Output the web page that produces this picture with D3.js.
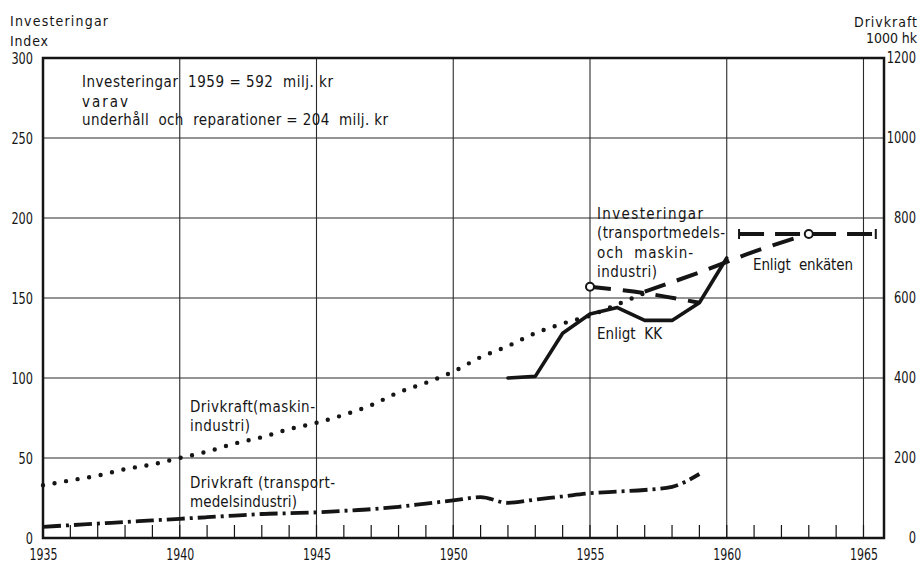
<!DOCTYPE html>
<html><head><meta charset="utf-8">
<script src="https://cdn.jsdelivr.net/npm/d3@7"></script>
<style>
html,body{margin:0;padding:0;background:#fff;}
svg{display:block;}
text{font-family:"DejaVu Sans Condensed","DejaVu Sans",sans-serif;fill:#151515;}
.num text{font-family:"DejaVu Sans Condensed","DejaVu Sans",sans-serif;font-size:16px;fill:#151515;}
</style></head><body>
<svg id="chart" width="922" height="564"></svg>
<script>
// ---------- data ----------
const xTickYears = [1935, 1940, 1945, 1950, 1955, 1960, 1965];
const minorYears = d3.range(1935, 1966);
const leftTicks = [0, 50, 100, 150, 200, 250, 300];          // Investeringar, index
const rightTicks = [0, 200, 400, 600, 800, 1000, 1200];       // Drivkraft, 1000 hk

// Drivkraft (maskinindustri), 1000 hk  (dotted)
const maskinYears  = [1935,1936,1937,1938,1939,1940,1941,1942,1943,1944,1945,1946,1947,1948,1949,1950,1951,1952,1953,1954,1955,1956,1957];
const maskinValues = [132, 144, 156, 172, 184, 200, 216, 236, 252, 272, 288, 308, 332, 364, 388, 416, 452, 480, 512, 536, 556, 584, 612];

// Drivkraft (transportmedelsindustri), 1000 hk  (dash-dot)
const transportYears  = [1935,1936,1937,1938,1939,1940,1941,1942,1943,1944,1945,1946,1947,1948,1949,1950,1951,1952,1953,1954,1955,1956,1957,1958,1959];
const transportValues = [28, 32, 36, 40, 44, 48, 52, 56, 60, 62, 64, 68, 72, 78, 86, 94, 102, 88, 96, 104, 112, 116, 120, 128, 160];

// Investeringar enligt KK, index (solid)
const kkYears  = [1952, 1953, 1954, 1955, 1956, 1957, 1958, 1959, 1960];
const kkValues = [100, 101, 128, 140, 144, 136, 136, 147, 175];

// Investeringar enligt enkäten, index (dashed)
const enkatYearsA  = [1955, 1957, 1959];
const enkatValuesA = [157, 153, 147];
const enkatYearsB  = [1957, 1959, 1961, 1963];
const enkatValuesB = [154, 166, 179, 190];
const enkatLevelYears = [1960.45, 1965.45];
const enkatLevel = 190;
const enkatMarkYears  = [1955, 1963];
const enkatMarkValues = [157, 190];

// ---------- chart ----------
const svg = d3.select("#chart");
const L = 43, R = 884, T = 58, B = 538;
const x  = d3.scaleLinear().domain([1935, 1965.75]).range([L, R]);
const yL = d3.scaleLinear().domain([0, 300]).range([B, T]);
const yR = d3.scaleLinear().domain([0, 1200]).range([B, T]);
const ink = "#151515";

// gridlines
svg.append("g").selectAll("line").data(leftTicks.filter(v => v > 0 && v < 300)).join("line")
  .attr("x1", L).attr("x2", R).attr("y1", d => yL(d)).attr("y2", d => yL(d))
  .attr("stroke", "#2a2a2a").attr("stroke-width", 1.1);
svg.append("g").selectAll("line").data(xTickYears.filter(v => v > 1935)).join("line")
  .attr("x1", d => x(d)).attr("x2", d => x(d)).attr("y1", T).attr("y2", B)
  .attr("stroke", "#2a2a2a").attr("stroke-width", 1.1);
// minor year ticks
svg.append("g").selectAll("line").data(minorYears).join("line")
  .attr("x1", d => x(d)).attr("x2", d => x(d)).attr("y1", B).attr("y2", B - 13)
  .attr("stroke", ink).attr("stroke-width", 1.2);

// axes (labels)
const fmt = d3.format("d");
const axL = svg.append("g").attr("class", "num").attr("transform", `translate(${L},0)`)
  .call(d3.axisLeft(yL).tickValues(leftTicks).tickFormat(fmt).tickSize(0).tickPadding(10));
const axB = svg.append("g").attr("class", "num").attr("transform", `translate(0,${B})`)
  .call(d3.axisBottom(x).tickValues(xTickYears).tickFormat(fmt).tickSize(0).tickPadding(11));
[axL, axB].forEach(a => {
  a.select(".domain").remove();
  a.selectAll("text").attr("font-size", 16).attr("fill", ink);
});
const digitW = 7.2;
axL.selectAll("text").attr("textLength", d => String(d).length * digitW).attr("lengthAdjust", "spacingAndGlyphs");
axB.selectAll("text").attr("font-size", 17).attr("textLength", 28).attr("lengthAdjust", "spacingAndGlyphs");

// right axis labels (condensed horizontally, right-aligned at 916)
svg.append("g").selectAll("text").data(rightTicks).join("text")
  .attr("transform", d => `translate(916,${yR(d)}) scale(0.8,1)`)
  .attr("x", 0).attr("dy", "0.32em").attr("text-anchor", "end")
  .attr("font-size", 16).attr("fill", ink)
  .text(fmt);

// frame
svg.append("rect").attr("x", L).attr("y", T).attr("width", R - L).attr("height", B - T)
  .attr("fill", "none").attr("stroke", ink).attr("stroke-width", 2.5);

// series
const zip = (xs, ys) => xs.map((v, i) => [v, ys[i]]);
const lineR = d3.line().x(d => x(d[0])).y(d => yR(d[1])).curve(d3.curveMonotoneX);
const lineL = d3.line().x(d => x(d[0])).y(d => yL(d[1])).curve(d3.curveMonotoneX);
const lineLin = d3.line().x(d => x(d[0])).y(d => yL(d[1]));

svg.append("path").datum(zip(maskinYears, maskinValues)).attr("d", lineR)
  .attr("fill", "none").attr("stroke", ink).attr("stroke-width", 4.4)
  .attr("stroke-linecap", "round").attr("stroke-dasharray", "0,11.7");

svg.append("path").datum(zip(transportYears, transportValues)).attr("d", lineR)
  .attr("fill", "none").attr("stroke", ink).attr("stroke-width", 3.8)
  .attr("stroke-dasharray", "18,5,3,5");

svg.append("path").datum(zip(kkYears, kkValues)).attr("d", lineLin)
  .attr("fill", "none").attr("stroke", ink).attr("stroke-width", 3.6)
  .attr("stroke-linejoin", "round").attr("stroke-linecap", "round");

svg.append("path").datum(zip(enkatYearsA, enkatValuesA)).attr("d", lineL)
  .attr("fill", "none").attr("stroke", ink).attr("stroke-width", 4)
  .attr("stroke-dasharray", "21,12");
svg.append("path").datum(zip(enkatYearsB, enkatValuesB)).attr("d", lineL)
  .attr("fill", "none").attr("stroke", ink).attr("stroke-width", 4)
  .attr("stroke-dasharray", "22,12");

// level line with end bars
svg.append("line").attr("x1", x(enkatLevelYears[0])).attr("x2", x(enkatLevelYears[1]))
  .attr("y1", yL(enkatLevel)).attr("y2", yL(enkatLevel))
  .attr("stroke", ink).attr("stroke-width", 4).attr("stroke-dasharray", "25,11");
svg.append("g").selectAll("line").data(enkatLevelYears).join("line")
  .attr("x1", d => x(d)).attr("x2", d => x(d))
  .attr("y1", yL(enkatLevel) - 5).attr("y2", yL(enkatLevel) + 5)
  .attr("stroke", ink).attr("stroke-width", 2);

svg.append("g").selectAll("circle").data(zip(enkatMarkYears, enkatMarkValues)).join("circle")
  .attr("cx", d => x(d[0])).attr("cy", d => yL(d[1])).attr("r", 4)
  .attr("fill", "#fff").attr("stroke", ink).attr("stroke-width", 2);

// texts  [text, x, baseline y, target width, size, anchor]
const labels = [
  ["Investeringar", 10, 26, 98, 14, "start"],
  ["Index", 10, 46, 38, 14, "start"],
  ["Drivkraft", 917, 27, 63, 14, "end"],
  ["1000 hk", 917, 43, 51, 14, "end"],
  ["Investeringar  1959 = 592  milj. kr", 82, 87, 251, 15, "start"],
  ["varav", 82, 107, 46, 15, "start"],
  ["underhåll  och  reparationer = 204  milj. kr", 82, 125, 306, 15, "start"],
  ["Investeringar", 597, 219, 106, 15, "start"],
  ["(transportmedels-", 597, 238, 128, 15, "start"],
  ["och  maskin-", 597, 258, 96, 15, "start"],
  ["industri)", 597, 277, 60, 15, "start"],
  ["Enligt  KK", 597, 339, 65, 15, "start"],
  ["Enligt  enkäten", 753, 270, 100, 15, "start"],
  ["Drivkraft(maskin-", 190, 412, 125, 15, "start"],
  ["industri)", 190, 431, 60, 15, "start"],
  ["Drivkraft (transport-", 190, 488, 145, 15, "start"],
  ["medelsindustri)", 190, 507, 107, 15, "start"]
];
svg.append("g").selectAll("text").data(labels).join("text")
  .attr("x", d => d[1]).attr("y", d => d[2]).attr("font-size", d => d[4])
  .attr("text-anchor", d => d[5]).style("white-space", "pre")
  .attr("textLength", d => d[3]).attr("lengthAdjust", "spacing")
  .text(d => d[0]);
</script>
</body></html>
